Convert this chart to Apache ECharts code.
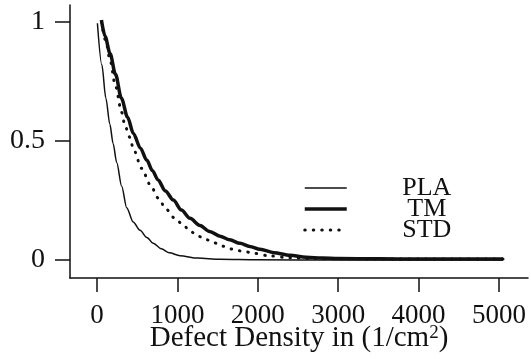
<!DOCTYPE html>
<html>
<head>
<meta charset="utf-8">
<script src="https://cdn.jsdelivr.net/npm/echarts@6/dist/echarts.min.js"></script>
<style>
  html, body { margin: 0; padding: 0; background: #fff; }
  #chart { width: 531px; height: 359px; }
</style>
</head>
<body>
<div id="chart"></div>
<script>
// values: [defect density, yield]
const seriesNames = ['PLA', 'TM', 'STD'];
const plaData = [[5, 0.995], [60, 0.82], [110, 0.68], [160, 0.57], [200, 0.49], [245, 0.41], [307, 0.31],
  [369, 0.22], [450, 0.16], [535, 0.125], [620, 0.095], [700, 0.07], [800, 0.047], [900, 0.03],
  [1032, 0.018], [1250, 0.008], [1530, 0.003], [2000, 0.001], [3000, 0], [5050, 0]];
const tmData = [[55, 1.008], [100, 0.94], [162, 0.868], [230, 0.78], [303, 0.68], [380, 0.6], [452, 0.532],
  [540, 0.47], [618, 0.42], [690, 0.375], [760, 0.336], [850, 0.29], [949, 0.252], [1050, 0.21],
  [1157, 0.175], [1281, 0.145], [1400, 0.12], [1530, 0.1], [1650, 0.085], [1779, 0.07], [1900, 0.057],
  [2027, 0.045], [2200, 0.031], [2400, 0.02], [2600, 0.012], [2800, 0.008], [3000, 0.006],
  [3500, 0.005], [4000, 0.004], [5050, 0.004]];
const stdData = [[55, 1.0], [110, 0.92], [162, 0.84], [230, 0.73], [307, 0.62], [348, 0.563], [410, 0.515],
  [452, 0.466], [556, 0.385], [659, 0.318], [763, 0.26], [858, 0.214], [962, 0.177], [1066, 0.15],
  [1157, 0.121], [1260, 0.1], [1364, 0.085], [1459, 0.072], [1563, 0.058], [1654, 0.047], [1757, 0.039],
  [1853, 0.034], [1953, 0.028], [2152, 0.017], [2400, 0.009], [2700, 0.006], [3000, 0.005],
  [4000, 0.004], [5050, 0.004]];
const xTicks = [0, 1000, 2000, 3000, 4000, 5000];
const yTicks = [0, 0.5, 1];

const chart = echarts.init(document.getElementById('chart'));
const font = 'Liberation Serif';
const ink = '#111';

// line look per series, shared by the plot and the legend
const lineStyles = [
    { color: ink, width: 1.5 },
    { color: ink, width: 3.5 },
    { color: ink, width: 3, type: [0.5, 8], cap: 'round' }
];

const axisCommon = {
    axisLine: { show: true, onZero: false, lineStyle: { color: ink, width: 1.5 } },
    axisTick: { show: true, inside: false, lineStyle: { color: ink, width: 1.5 } },
    splitLine: { show: false },
};

chart.setOption({
    animation: false,
    backgroundColor: '#fff',
    color: [ink, ink, ink],
    grid: { left: 70, right: 3, top: 5, bottom: 81, containLabel: false, outerBoundsMode: 'none' },
    legend: {
        data: seriesNames.map((n, i) => ({ name: n, lineStyle: lineStyles[i] })),
        orient: 'vertical',
        left: 298,
        top: 170,
        itemWidth: 42,
        itemHeight: 14,
        itemGap: -5,
        itemStyle: { opacity: 0 },
        formatter: name => '{c|' + name + '}',
        textStyle: {
            color: ink,
            fontFamily: font,
            fontSize: 26,
            lineHeight: 21.5,
            rich: { c: { width: 56, align: 'center', fontSize: 26, lineHeight: 21.5, padding: [0, 0, 0, 47] } }
        }
    },
    xAxis: {
        type: 'value',
        min: -336,
        max: 5361,
        ...axisCommon,
        axisTick: { ...axisCommon.axisTick, length: 14, customValues: xTicks },
        axisLabel: { customValues: xTicks, formatter: v => String(v), margin: 24, color: ink, fontFamily: font, fontSize: 27 },
        name: 'Defect Density in (1/cm{s|2})',
        nameLocation: 'middle',
        nameGap: 46,
        nameMoveOverlap: false,
        nameTextStyle: {
            color: ink,
            fontFamily: font,
            fontSize: 29,
            rich: { s: { fontSize: 19, verticalAlign: 'top', fontFamily: font, color: ink } }
        }
    },
    yAxis: {
        type: 'value',
        min: -0.0756,
        max: 1.0714,
        ...axisCommon,
        axisTick: { ...axisCommon.axisTick, length: 15, customValues: yTicks },
        axisLabel: { customValues: yTicks, formatter: v => String(v), margin: 25, color: ink, fontFamily: font, fontSize: 28 }
    },
    series: [
        { name: 'PLA', type: 'line', data: plaData, symbol: 'none', smooth: 0.3, smoothMonotone: 'x', lineStyle: lineStyles[0] },
        { name: 'TM', type: 'line', data: tmData, symbol: 'none', smooth: 0.3, smoothMonotone: 'x', lineStyle: lineStyles[1] },
        { name: 'STD', type: 'line', data: stdData, symbol: 'none', smooth: 0.3, smoothMonotone: 'x', lineStyle: lineStyles[2] }
    ]
});
</script>
</body>
</html>
